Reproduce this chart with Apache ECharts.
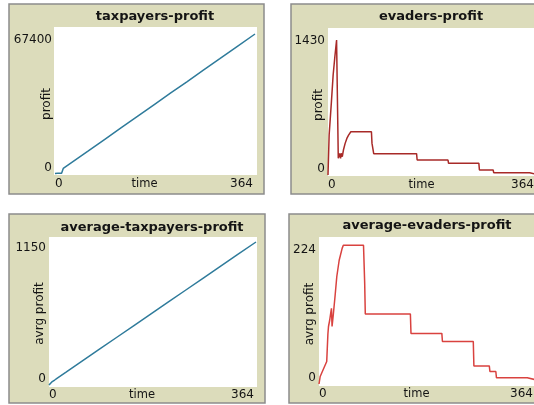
<!DOCTYPE html>
<html>
<head>
<meta charset="utf-8">
<script src="https://cdn.jsdelivr.net/npm/echarts@6/dist/echarts.min.js"></script>
<style>
  html, body { margin: 0; padding: 0; background: #ffffff; }
  #chart { width: 534px; height: 405px; }
</style>
</head>
<body>
<div id="chart"></div>
<script>
// Tick labels shown at the ends of each axis
const timeTicks = [0, 364];
const taxpayersTicks = [0, 67400];
const evadersTicks = [0, 1430];
const avgTaxpayersTicks = [0, 1150];
const avgEvadersTicks = [0, 224];

// taxpayers-profit
const taxpayersTime   = [0, 5, 12, 15, 30, 60, 90, 120, 150, 180, 210, 240, 270, 300, 330, 364];
const taxpayersProfit = [300, 350, 400, 2700, 5500, 11000, 16600, 22200, 27700, 33300, 38900, 44400, 50000, 55500, 61100, 67400];

// evaders-profit
const evadersTime   = [0, 2, 6, 9, 12, 15, 18, 20, 22, 23, 25, 27, 30, 33, 36, 40, 76, 77, 79, 80, 155, 156, 210, 211, 264, 265, 289, 290, 353, 354, 364];
const evadersProfit = [0, 408, 749, 1021, 1208, 1379, 170, 221, 170, 221, 187, 255, 323, 374, 408, 442, 442, 323, 323, 218, 218, 153, 153, 119, 119, 51, 51, 24, 24, 8, 8];

// average-taxpayers-profit
const avgTaxpayersTime   = [0, 5, 10, 14, 30, 60, 90, 120, 150, 180, 210, 240, 270, 300, 330, 364];
const avgTaxpayersProfit = [0, 25, 40, 54, 104, 198, 292, 386, 480, 574, 668, 762, 856, 950, 1044, 1150];

// average-evaders-profit
const avgEvadersTime   = [0, 2, 13, 15, 16, 18, 20, 21, 22, 24, 27, 30, 34, 39, 41, 75, 77, 78, 154, 155, 207, 208, 260, 261, 287, 288, 298, 299, 351, 352, 364];
const avgEvadersProfit = [0, 12, 36, 80, 92, 102, 115, 121, 92, 110, 140, 172, 198, 217, 222, 222, 161, 112, 112, 81, 81, 68, 68, 29, 29, 20, 20, 10, 10, 7, 7];

const FONT = 'DejaVu Sans';
const FRAME_FILL = '#dcdcbb';
const FRAME_STROKE = '#8c8c8c';
const TEXT = '#141414';

const panels = [
  { title: 'taxpayers-profit', yName: 'profit', ticks: taxpayersTicks,
    time: taxpayersTime, values: taxpayersProfit, color: '#2f7b9b',
    frame: [9, 4, 255, 190], plot: [54, 27, 203, 148],
    grid: { left: 55, top: 34, width: 200, height: 140 }, titleAt: [155, 17], nameGap: 2 },
  { title: 'evaders-profit', yName: 'profit', ticks: evadersTicks,
    time: evadersTime, values: evadersProfit, color: '#a82a28',
    frame: [291, 4, 255, 190], plot: [328, 28, 212, 148],
    grid: { left: 328, top: 35, width: 208, height: 140 }, titleAt: [431, 17], nameGap: 3 },
  { title: 'average-taxpayers-profit', yName: 'avrg profit', ticks: avgTaxpayersTicks,
    time: avgTaxpayersTime, values: avgTaxpayersProfit, color: '#2f7b9b',
    frame: [9, 214, 256, 189], plot: [49, 237, 208, 150],
    grid: { left: 49, top: 242, width: 207, height: 143 }, titleAt: [152, 228], nameGap: 3 },
  { title: 'average-evaders-profit', yName: 'avrg profit', ticks: avgEvadersTicks,
    time: avgEvadersTime, values: avgEvadersProfit, color: '#d9423f',
    frame: [289, 214, 257, 189], plot: [319, 237, 221, 149],
    grid: { left: 319, top: 244, width: 216, height: 140 }, titleAt: [427, 226], nameGap: 3 }
];

// Panel frames, white plotting canvases and panel titles
const graphics = [];
panels.forEach(p => {
  graphics.push({
    type: 'rect', z: -2,
    shape: { x: p.frame[0], y: p.frame[1], width: p.frame[2], height: p.frame[3] },
    style: { fill: FRAME_FILL, stroke: FRAME_STROKE, lineWidth: 1.5 }
  });
  graphics.push({
    type: 'rect', z: -1,
    shape: { x: p.plot[0], y: p.plot[1], width: p.plot[2], height: p.plot[3] },
    style: { fill: '#ffffff' }
  });
  graphics.push({
    type: 'text', z: 5,
    x: p.titleAt[0], y: p.titleAt[1],
    style: {
      text: p.title, fill: TEXT,
      font: 'bold 13px "' + FONT + '"',
      textAlign: 'center', textVerticalAlign: 'middle',
      align: 'center', verticalAlign: 'middle'
    }
  });
});

const labelStyle = { fontFamily: FONT, fontSize: 12, color: TEXT };
const nameStyle = { fontFamily: FONT, fontSize: 11.5, color: TEXT };
const plain = v => String(v);

const option = {
  animation: false,
  backgroundColor: '#ffffff',
  graphic: { elements: graphics },
  grid: panels.map(p => Object.assign({ containLabel: false, outerBoundsMode: 'none', show: false }, p.grid)),
  xAxis: panels.map((p, i) => ({
    type: 'value', gridIndex: i, min: 0, max: 364,
    name: 'time', nameLocation: 'middle', nameGap: 4, nameMoveOverlap: false,
    nameTextStyle: Object.assign({}, nameStyle, { padding: [0, 21, 0, 0], verticalAlign: 'top' }),
    axisLine: { show: false }, axisTick: { show: false }, splitLine: { show: false },
    axisLabel: Object.assign({}, labelStyle, {
      customValues: timeTicks, margin: 4, formatter: plain,
      alignMinLabel: 'left', alignMaxLabel: 'right', padding: [0, 2, 0, 0]
    })
  })),
  yAxis: panels.map((p, i) => ({
    type: 'value', gridIndex: i, min: p.ticks[0], max: p.ticks[1],
    name: p.yName, nameLocation: 'middle', nameGap: p.nameGap, nameRotate: 90, nameMoveOverlap: false,
    nameTextStyle: Object.assign({}, nameStyle, { fontSize: 12 }),
    axisLine: { show: false }, axisTick: { show: false }, splitLine: { show: false },
    axisLabel: Object.assign({}, labelStyle, {
      customValues: p.ticks, margin: 3, formatter: plain,
      verticalAlignMinLabel: 'bottom', verticalAlignMaxLabel: 'top'
    })
  })),
  series: panels.map((p, i) => ({
    type: 'line', xAxisIndex: i, yAxisIndex: i,
    data: p.time.map((t, k) => [t, p.values[k]]),
    showSymbol: false, symbol: 'none',
    lineStyle: { color: p.color, width: 1.5 },
    clip: false
  }))
};

const chart = echarts.init(document.getElementById('chart'), null, { renderer: 'canvas' });
chart.setOption(option);
</script>
</body>
</html>
